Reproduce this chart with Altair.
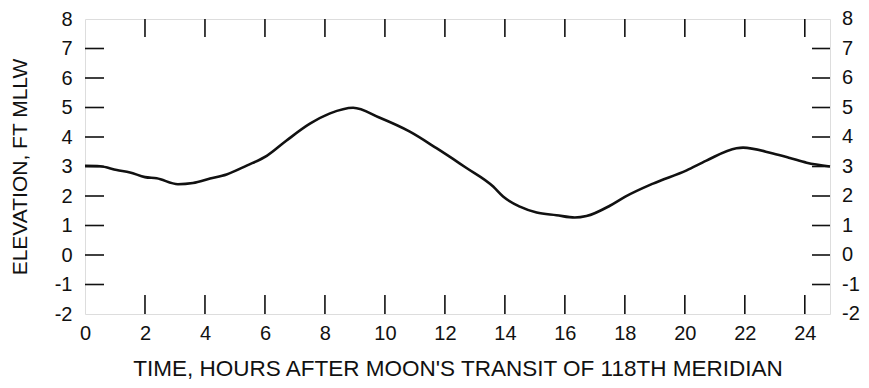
import altair as alt
import pandas as pd

hours = [0.0, 0.5, 1.06, 1.5, 2.0, 2.39, 3.1, 3.6, 4.17, 4.72, 5.39, 6.06, 6.72,
         7.5, 8.17, 8.94, 9.83, 10.83, 11.72, 12.5, 12.72, 13.61, 13.94, 14.5,
         15.06, 15.72, 16.33, 16.72, 17.5, 18.0, 18.94, 20.06, 20.72, 21.72,
         21.94, 22.94, 23.5, 24.06, 24.84]
elev = [3.02, 3.01, 2.88, 2.8, 2.64, 2.6, 2.4, 2.44, 2.59, 2.73, 3.03, 3.36, 3.88,
        4.45, 4.8, 4.99, 4.65, 4.18, 3.62, 3.1, 2.95, 2.32, 1.98, 1.64,
        1.44, 1.35, 1.27, 1.32, 1.67, 1.97, 2.42, 2.87, 3.2, 3.62,
        3.64, 3.44, 3.29, 3.13, 3.0]

y_ticks = [-2, -1, 0, 1, 2, 3, 4, 5, 6, 7, 8]
y_tick_labels = ["-2", "-1", "0", "1", "2", "3", "4", "5", "6", "7", "8"]
y_inner_ticks = [-1, 0, 1, 2, 3, 4, 5, 6, 7]
x_ticks = [0, 2, 4, 6, 8, 10, 12, 14, 16, 18, 20, 22, 24]
x_inner_ticks = [2, 4, 6, 8, 10, 12, 14, 16, 18, 20, 22, 24]

x_title = "TIME, HOURS AFTER MOON'S TRANSIT OF 118TH MERIDIAN"
y_title = "ELEVATION, FT MLLW"

W, H = 745, 295
FONT = "Liberation Sans"
INK = "#111111"

df = pd.DataFrame({"hour": hours, "elev": elev})
ydf = pd.DataFrame({"v": y_inner_ticks})
xdf = pd.DataFrame({"h": x_inner_ticks})
ylab = pd.DataFrame({"v": y_ticks, "t": y_tick_labels})

xscale = alt.Scale(domain=[0, 24.84], nice=False, zero=False)
yscale = alt.Scale(domain=[-2, 8], nice=False, zero=False)

xaxis = alt.Axis(values=x_ticks, ticks=False, domain=False, grid=False,
                 labelPadding=9, labelFontSize=20, labelFont=FONT, labelColor=INK,
                 title=x_title, titleFontSize=22.5, titleFont=FONT,
                 titleFontWeight="normal", titleColor=INK, titlePadding=14,
                 labelFlush=False)
yaxis = alt.Axis(values=y_ticks, ticks=False, domain=False, grid=False,
                 labelPadding=13, labelFontSize=20, labelFont=FONT, labelColor=INK,
                 labelExpr="'' + datum.value",
                 title=y_title, titleFontSize=21, titleFont=FONT,
                 titleFontWeight="normal", titleColor=INK, titlePadding=24,
                 labelFlush=False)

line = alt.Chart(df).mark_line(color=INK, strokeWidth=2.6, interpolate="monotone").encode(
    x=alt.X("hour:Q", scale=xscale, axis=xaxis),
    y=alt.Y("elev:Q", scale=yscale, axis=yaxis),
)

left_ticks = alt.Chart(ydf).mark_rule(color=INK, strokeWidth=1.6).encode(
    y=alt.Y("v:Q", scale=yscale, axis=yaxis), x=alt.value(0), x2=alt.value(19))
right_ticks = alt.Chart(ydf).mark_rule(color=INK, strokeWidth=1.6).encode(
    y=alt.Y("v:Q", scale=yscale, axis=yaxis), x=alt.value(W - 18), x2=alt.value(W))
bottom_ticks = alt.Chart(xdf).mark_rule(color=INK, strokeWidth=1.6).encode(
    x=alt.X("h:Q", scale=xscale, axis=xaxis), y=alt.value(H), y2=alt.value(H - 19))
top_ticks = alt.Chart(xdf).mark_rule(color=INK, strokeWidth=1.6).encode(
    x=alt.X("h:Q", scale=xscale, axis=xaxis), y=alt.value(0), y2=alt.value(18))

right_labels = alt.Chart(ylab).mark_text(
    align="left", baseline="middle", fontSize=20, font=FONT, color=INK
).encode(
    y=alt.Y("v:Q", scale=yscale, axis=yaxis),
    x=alt.value(W + 12),
    text=alt.Text("t:N"),
)

chart = alt.layer(line, left_ticks, right_ticks, bottom_ticks, top_ticks, right_labels).properties(
    width=W, height=H,
    autosize=alt.AutoSizeParams(type="none"),
    padding={"left": 77, "top": 11, "right": 31, "bottom": 66},
).configure_view(stroke=INK, strokeWidth=2.2).configure(background="white")

chart.save("out.html", embed_options={"renderer": "svg", "actions": False})
